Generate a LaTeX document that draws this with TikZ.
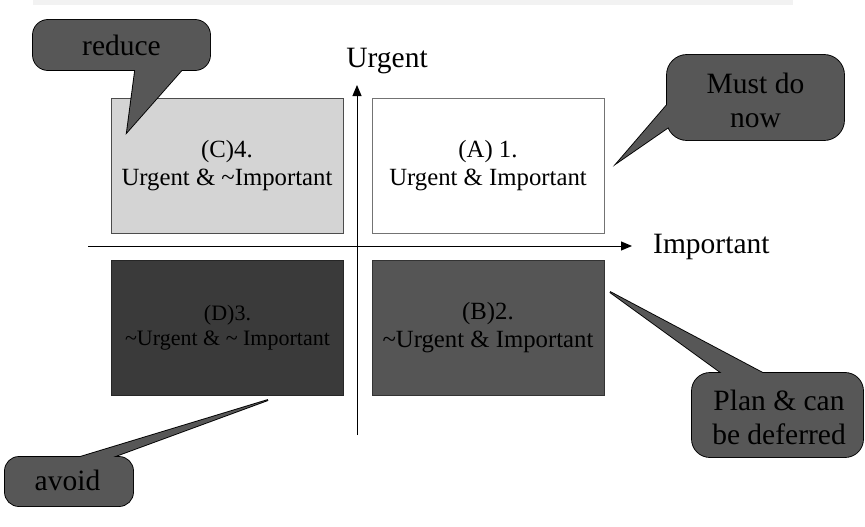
\documentclass[tikz,border=0pt]{standalone}
\usepackage{fontspec}
\setmainfont{Liberation Serif}
\usetikzlibrary{arrows.meta}
\definecolor{quadC}{HTML}{D4D4D4}
\definecolor{quadB}{HTML}{555555}
\definecolor{quadD}{HTML}{3A3A3A}
\definecolor{bubblegray}{HTML}{575757}
\definecolor{stripe}{HTML}{F2F2F2}

\begin{document}
\begin{tikzpicture}[x=1pt,y=-1pt,
        quad/.style={minimum width=232pt, minimum height=135pt, inner sep=0pt, outer sep=0pt, align=center, line width=0.8pt, font=\fontsize{24.75}{28}\selectfont},
        bubble/.style={draw=black, fill=bubblegray, line width=1.8pt, rounded corners=15pt, inner sep=0pt, outer sep=0pt},
        bubbletext/.style={align=center, font=\fontsize{29.5}{34}\selectfont},
        axislabel/.style={inner sep=0pt, font=\fontsize{29.5}{34}\selectfont},
        axis/.style={line width=1pt, -{Triangle[length=11pt,width=9pt]}}]
        \useasboundingbox (0,0) rectangle (865,527);
        \fill[stripe](33,0) rectangle (793,5);

        \node[quad, draw=black!70, fill=quadC](C) at (227,166){(C)4.\\Urgent \& \textasciitilde Important};
        \node[quad, draw=black!55, fill=white](A) at (488,166){(A) 1.\\Urgent \& Important};
        \node[quad, draw=black!85, fill=quadD, font=\fontsize{22}{25}\selectfont](D) at (227.5,328){(D)3.\\\textasciitilde Urgent \& \textasciitilde\ Important};
        \node[quad, draw=black!80, fill=quadB](B) at (488,328){(B)2.\\\textasciitilde Urgent \& Important};

        \coordinate (ytop) at (357,85);
        \coordinate (ybot) at (357,435);
        \coordinate (xleft) at (88,246);
        \coordinate (xright) at (632,246);
        \draw[axis](ybot)--(ytop);
        \draw[axis](xleft)--(xright);
        \node[axislabel, anchor=base](urgent) at (387,67){Urgent};
        \node[axislabel, anchor=base west](important) at (653,253){Important};

        \node[bubble, minimum width=177pt, minimum height=50pt](rbox) at (121.5,45){};
        \coordinate (rtip) at (127,132);
        \draw[line width=1.8pt](136,64)--(rtip)--(187,64);
        \fill[bubblegray, rounded corners=15pt](rbox.south west) rectangle (rbox.north east);
        \fill[bubblegray](136,64)--(rtip)--(187,64)--cycle;
        \node[bubbletext](reduce) at (121.5,45){reduce};

        \node[bubble, minimum width=177pt, minimum height=85pt, rounded corners=20pt](mbox) at (755.5,97.5){};
        \coordinate (mtip) at (618,162);
        \draw[line width=1.8pt](673,98)--(mtip)--(673,124);
        \fill[bubblegray, rounded corners=20pt](mbox.south west) rectangle (mbox.north east);
        \fill[bubblegray](673,98)--(mtip)--(673,124)--cycle;
        \node[bubbletext](mustdo) at (755.5,100){Must do\\now};

        \node[bubble, minimum width=171pt, minimum height=84pt, rounded corners=18pt](pbox) at (777.5,415){};
        \coordinate (ptip) at (610,292);
        \draw[line width=1.8pt](730,379)--(ptip)--(774,379);
        \fill[bubblegray, rounded corners=18pt](pbox.south west) rectangle (pbox.north east);
        \fill[bubblegray](730,379)--(ptip)--(774,379)--cycle;
        \node[bubbletext](plan) at (779,417){Plan \& can\\be deferred};

        \node[bubble, minimum width=128pt, minimum height=49pt, rounded corners=14pt](abox) at (69,481.5){};
        \coordinate (atip) at (268,400);
        \draw[line width=1.8pt](67,461)--(atip)--(102,461);
        \fill[bubblegray, rounded corners=14pt](abox.south west) rectangle (abox.north east);
        \fill[bubblegray](67,461)--(atip)--(102,461)--cycle;
        \node[bubbletext](avoid) at (67.5,480){avoid};
    \end{tikzpicture}
\end{document}
